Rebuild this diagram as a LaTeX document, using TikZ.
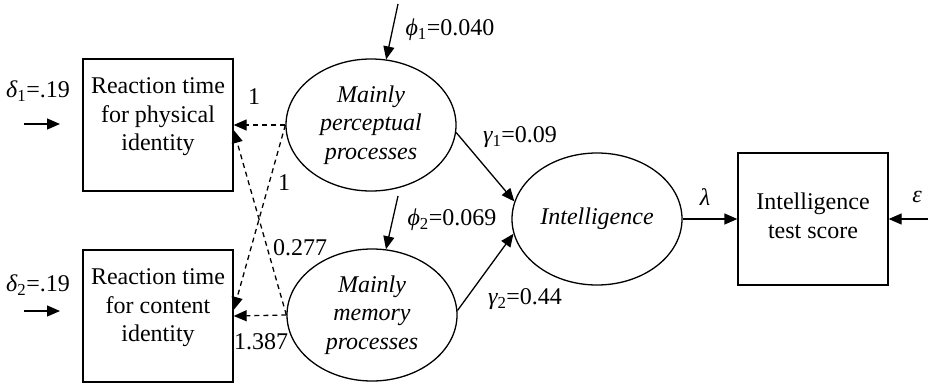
\documentclass[tikz,border=0pt]{standalone}
\usepackage{fontspec}
\setmainfont{LiberationSerif}[Extension=.ttf,UprightFont=*-Regular,ItalicFont=*-Italic,BoldFont=*-Bold,BoldItalicFont=*-BoldItalic]
\usetikzlibrary{arrows.meta,shapes.geometric}
\begin{document}
\begin{tikzpicture}[x=1pt,y=-1pt,
  font=\fontsize{24}{28.5}\selectfont\rmfamily,
  box/.style={draw,line width=1.3pt,minimum width=150pt,minimum height=132pt,inner sep=0pt},
  boxtext/.style={yshift=8pt,align=center,inner sep=0pt},
  latent/.style={draw,ellipse,line width=1.3pt,minimum width=170pt,minimum height=132pt,inner sep=0pt,align=center,font=\fontsize{24}{28.5}\selectfont\rmfamily\itshape},
  arr/.style={line width=1.3pt,-{Triangle[length=13pt,width=11pt]}},
  darr/.style={arr,dash pattern=on 5pt off 4pt},
  lab/.style={inner sep=0pt}]
\useasboundingbox (0,0) rectangle (928,383);
% observed boxes
\node[box,label={[boxtext]center:Reaction time\\for physical\\identity}] (b1) at (158,125) {};
\node[box,label={[boxtext]center:Reaction time\\for content\\identity}] (b2) at (158,316) {};
\node[box,label={[boxtext,yshift=-5pt]center:Intelligence\\test score}] (t) at (813,219) {};
% latent ellipses
\node[latent] (e1) at (371,125) {Mainly\\perceptual\\processes};
\node[latent] (e2) at (372,315) {Mainly\\memory\\processes};
\node[latent] (in) at (597,219) {Intelligence};
% free ends
\coordinate (p1) at (398,4);
\coordinate (p2) at (398,196);
\coordinate (d1) at (24,124);
\coordinate (d1e) at (60,124);
\coordinate (d2) at (24,311);
\coordinate (d2e) at (60,311);
\coordinate (ep) at (928,219);
% dashed loadings
\draw[darr] (e1.west) -- (b1.east);
\draw[darr] (e1.west) -- ([yshift=6pt]b2.east);
\draw[darr] (e2.west) -- (b2.east);
\draw[darr] (e2.west) -- ([yshift=-5pt]b1.east);
% structural paths
\draw[arr] (e1.-5) -- (in.168);
\draw[arr] (e2.3) -- (in.190);
\draw[arr] (in.east) -- (t.west);
\draw[arr] (ep) -- (t.east);
\draw[arr] (p1) -- (e1.77);
\draw[arr] (p2) -- (e2.78);
\draw[arr] (d1) -- (d1e);
\draw[arr] (d2) -- (d2e);
% labels
\node[lab] (ld1) at (38,91) {{\itshape δ}\textsubscript{1}=.19};
\node[lab] (ld2) at (38,285) {{\itshape δ}\textsubscript{2}=.19};
\node[lab] (l1a) at (254,97) {1};
\node[lab] (l1b) at (284,183) {1};
\node[lab] (l277) at (300,248) {0.277};
\node[lab] (l1387) at (261,342) {1.387};
\node[lab] (lphi1) at (450,30) {{\itshape ϕ}\textsubscript{1}=0.040};
\node[lab] (lphi2) at (452,220) {{\itshape ϕ}\textsubscript{2}=0.069};
\node[lab] (lg1) at (520,137) {{\itshape γ}\textsubscript{1}=0.09};
\node[lab] (lg2) at (525,299) {{\itshape γ}\textsubscript{2}=0.44};
\node[lab] (llam) at (705,197) {\itshape λ};
\node[lab] (leps) at (917,197) {\itshape ε};
\end{tikzpicture}
\end{document}
